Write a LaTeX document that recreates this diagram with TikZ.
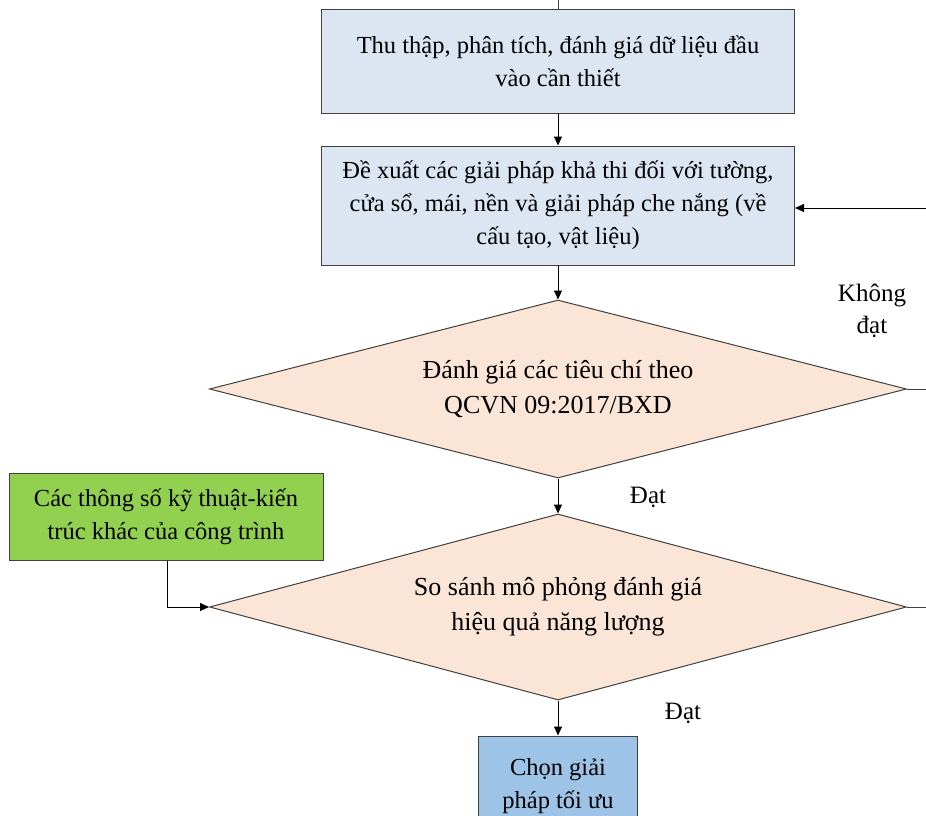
\documentclass[tikz,border=0pt]{standalone}
\usepackage{fontspec}
\setmainfont{Liberation Serif}
\usetikzlibrary{arrows.meta,shapes.geometric}
\definecolor{paleblue}{HTML}{DCE6F2}
\definecolor{midblue}{HTML}{9DC3E6}
\definecolor{peach}{HTML}{FBE5D6}
\definecolor{leaf}{HTML}{92D050}
\definecolor{edge}{HTML}{404040}
\begin{document}
\begin{tikzpicture}[x=1pt,y=-1pt,
  every node/.style={font=\fontsize{24.5}{33}\selectfont, align=center, text=black},
  box/.style={draw=edge, line width=1pt, rectangle, inner sep=0pt},
  decision/.style={draw=edge, line width=1pt, diamond, fill=peach, inner sep=0pt,
    font=\fontsize{26}{35}\selectfont},
  flow/.style={draw=black, line width=1pt, -{Triangle[length=9pt,width=8pt]}},
  plain/.style={draw=edge, line width=1pt},
  tag/.style={font=\fontsize{25}{32}\selectfont}]
\useasboundingbox (0,0) rectangle (926,816);
\clip (0,0) rectangle (926,816);

% process boxes
\node[box, fill=paleblue, minimum width=473pt, minimum height=103pt] (collect) at (558,61.5)
  {Thu thập, phân tích, đánh giá dữ liệu đầu\\vào cần thiết};
\node[box, fill=paleblue, minimum width=473pt, minimum height=119pt] (propose) at (558,205.5)
  {Đề xuất các giải pháp khả thi đối với tường,\\cửa sổ, mái, nền và giải pháp che nắng (về\\cấu tạo, vật liệu)};

% decisions
\node[decision, aspect=3.92, minimum width=697pt, minimum height=178pt] (check) at (558,389)
  {Đánh giá các tiêu chí theo\\QCVN 09:2017/BXD};
\node[decision, aspect=3.75, minimum width=697pt, minimum height=186pt] (compare) at (558,607)
  {So sánh mô phỏng đánh giá\\hiệu quả năng lượng};

% side input and result
\node[box, fill=leaf, minimum width=314pt, minimum height=87pt] (params) at (166,516.5)
  {Các thông số kỹ thuật-kiến\\trúc khác của công trình};
\node[box, fill=midblue, minimum width=159pt, minimum height=100pt] (choose) at (558,786)
  {Chọn giải\\pháp tối ưu};

% free ends of the lines leaving the frame
\coordinate (topin) at (558,0);
\coordinate (backin) at (926,208);
\coordinate (checkout) at (926,389);
\coordinate (compareout) at (926,607);
\coordinate (bend) at (167,607);

% connectors
\draw[plain] (topin) -- (collect.north);
\draw[flow] (collect.south) -- (propose.north);
\draw[flow] (propose.south) -- (check.north);
\draw[flow] (check.south) -- (compare.north);
\draw[flow] (compare.south) -- (choose.north);
\draw[flow] (backin) -- (propose.east |- backin);
\draw[plain] (check.east) -- (checkout);
\draw[plain] (compare.east) -- (compareout);
\draw[flow] (params.south -| bend) -- (bend) -- (compare.west);

% labels
\node[tag] (fail) at (872,311) {Không\\đạt};
\node[tag] (pass1) at (648,497) {Đạt};
\node[tag] (pass2) at (683,713) {Đạt};
\end{tikzpicture}
\end{document}
